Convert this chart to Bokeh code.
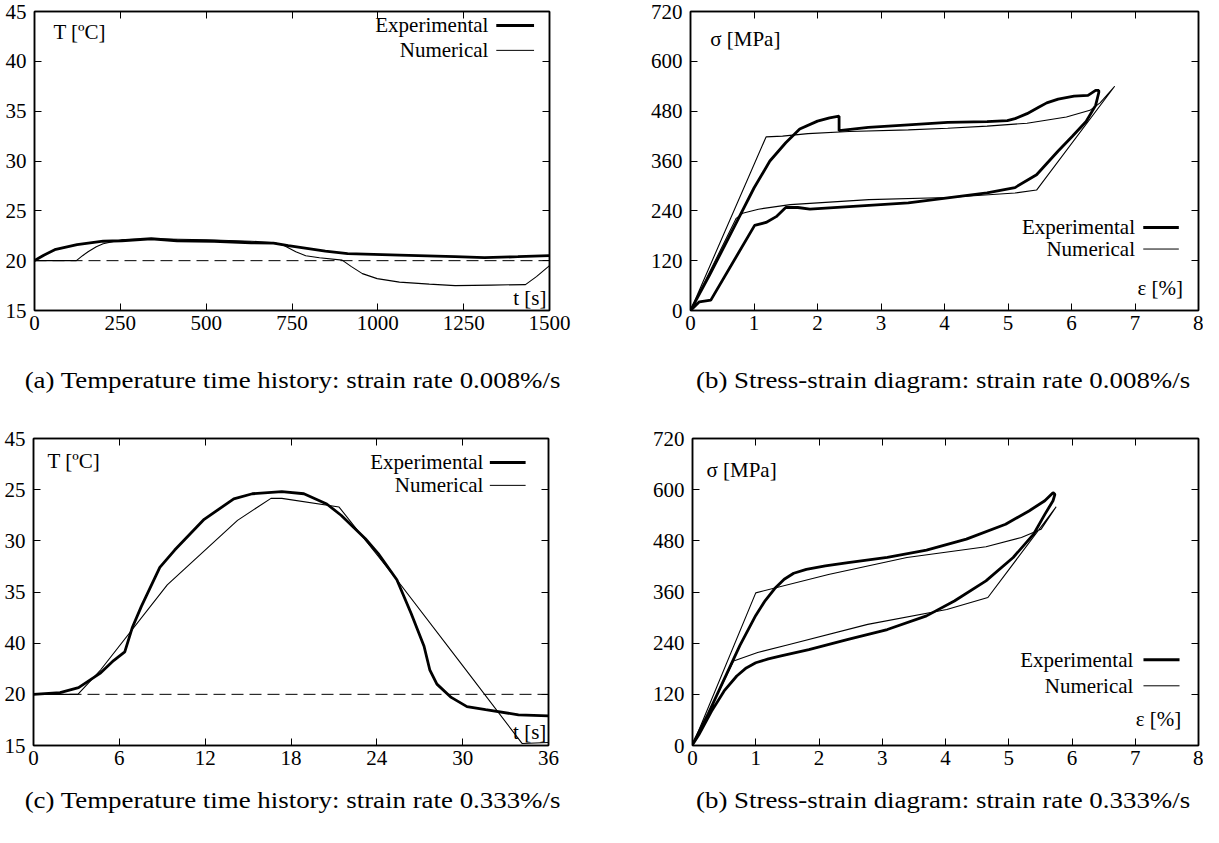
from bokeh.plotting import figure
from bokeh.models import Range1d, LinearAxis, FixedTicker, Span, Label, Arrow, Div
from bokeh.layouts import column, row
from bokeh.embed import file_html
from bokeh.resources import INLINE

FONT = "Liberation Serif"

# ---------------- data ----------------
# (a) temperature, strain rate 0.008%/s
a_t_exp = [0, 27, 59, 124, 200, 254, 340, 415, 523, 631, 696, 739, 847, 912, 1063, 1225, 1311, 1408, 1500]
a_T_exp = [20.0, 20.55, 21.1, 21.6, 21.95, 22.0, 22.2, 22.0, 21.95, 21.8, 21.75, 21.5, 20.95, 20.7, 20.55, 20.4, 20.3, 20.4, 20.5]
a_t_num = [0, 122, 140, 156, 180, 200, 254, 340, 500, 631, 700, 728, 761, 790, 830, 896, 923, 955, 998, 1063, 1150, 1225, 1330, 1430, 1462, 1500]
a_T_num = [20.0, 20.0, 20.5, 20.9, 21.4, 21.7, 22.1, 22.2, 22.1, 21.95, 21.8, 21.5, 20.9, 20.5, 20.3, 20.05, 19.4, 18.7, 18.2, 17.85, 17.65, 17.5, 17.55, 17.6, 18.4, 19.5]

# (b) stress-strain, strain rate 0.008%/s
b_e_exp = [0, 0.3, 0.6, 1.0, 1.25, 1.5, 1.72, 2.0, 2.19, 2.34, 2.34, 2.8, 3.43, 4.05, 4.67, 4.99, 5.11, 5.30, 5.49, 5.61, 5.79, 6.04, 6.26, 6.38, 6.43,
           6.43, 6.38, 6.23, 6.01, 5.79, 5.45, 5.11, 4.67, 4.05, 3.43, 2.5, 1.88, 1.69, 1.50, 1.35, 1.19, 1.01, 0.32, 0.14, 0]
b_s_exp = [0, 85, 175, 295, 360, 404, 437, 456, 464, 468, 433, 441, 447, 453, 455, 457, 462, 474, 490, 500, 509, 516, 518, 530, 530,
           525, 494, 455, 419, 384, 327, 296, 283, 271, 259, 250, 244, 248, 248, 226, 212, 205, 25, 21, 0]
b_e_num = [0, 1.19, 1.45, 1.85, 2.5, 3.43, 4.05, 4.67, 5.30, 5.92, 6.29, 6.45, 6.68, 5.45, 5.11, 4.05, 2.81, 1.57, 1.07, 0.82, 0.72, 0]
b_s_num = [0, 418, 420, 426, 431, 435, 439, 444, 451, 466, 482, 500, 540, 290, 283, 272, 267, 255, 244, 234, 222, 0]

# (c) temperature, strain rate 0.333%/s
c_t_exp = [0, 1.86, 3.15, 4.70, 5.6, 6.38, 6.9, 7.54, 8.83, 9.87, 11.93, 14.0, 15.3, 17.36, 18.9, 20.5, 21.5, 23.2, 24.1, 25.4, 26.4, 27.3, 27.7, 28.2, 29.2, 30.3, 31.6, 33.9, 36]
c_T_exp = [20.0, 20.17, 20.66, 22.1, 23.3, 24.15, 26.5, 28.6, 32.4, 34.1, 37.1, 39.1, 39.6, 39.8, 39.6, 38.6, 37.5, 35.2, 33.75, 31.2, 27.9, 24.7, 22.4, 21.0, 19.7, 18.8, 18.5, 18.0, 17.9]
c_t_num = [0, 3.1, 4.7, 9.35, 14.26, 16.6, 17.36, 21.36, 25.4, 30.0, 34.15, 36]
c_T_num = [20.0, 20.0, 22.4, 30.7, 37.0, 39.15, 39.15, 38.3, 31.2, 22.8, 15.2, 15.3]

# (d) stress-strain, strain rate 0.333%/s
d_e_exp = [0, 0.25, 0.5, 0.75, 1.0, 1.15, 1.3, 1.45, 1.6, 1.8, 2.1, 2.46, 3.08, 3.70, 4.33, 4.95, 5.32, 5.57, 5.70, 5.73,
           5.70, 5.57, 5.39, 5.07, 4.64, 4.14, 3.70, 3.08, 2.46, 1.84, 1.40, 1.2, 1.0, 0.85, 0.7, 0.5, 0.3, 0.1, 0]
d_s_exp = [2, 75, 155, 235, 305, 340, 368, 390, 404, 413, 421, 429, 441, 458, 484, 519, 550, 574, 593, 589,
           574, 542, 495, 441, 386, 339, 304, 272, 249, 225, 210, 203, 194, 182, 163, 128, 80, 25, 2]
d_e_num = [0, 1.0, 2.15, 3.39, 4.64, 5.2, 5.51, 5.75, 4.67, 4.02, 2.77, 1.53, 1.03, 0.65, 0]
d_s_num = [0, 358, 401, 441, 466, 488, 507, 560, 347, 319, 284, 237, 218, 198, 0]

# axes ticks and labels
temp_x_ticks_a = [0, 250, 500, 750, 1000, 1250, 1500]
temp_x_ticks_c = [0, 6, 12, 18, 24, 30, 36]
temp_y_ticks = [15, 20, 25, 30, 35, 40, 45]
temp_y_labels_c = ["15", "20", "40", "35", "30", "25", "45"]
ss_x_ticks = [0, 1, 2, 3, 4, 5, 6, 7, 8]
ss_y_ticks = [0, 120, 240, 360, 480, 600, 720]

captions = [
    "(a) Temperature time history: strain rate 0.008%/s",
    "(b) Stress-strain diagram: strain rate 0.008%/s",
    "(c) Temperature time history: strain rate 0.333%/s",
    "(b) Stress-strain diagram: strain rate 0.333%/s",
]


def style_axis(ax, ticks, hidden=False):
    ax.major_tick_in = 7
    ax.major_tick_out = 0
    ax.minor_tick_in = 0
    ax.minor_tick_out = 0
    ax.axis_line_color = "black"
    ax.axis_line_width = 1.5
    ax.major_tick_line_color = "black"
    ax.major_tick_line_width = 1
    ax.major_label_text_font = FONT
    ax.major_label_text_color = "black"
    if hidden:
        ax.major_label_overrides = {t: "" for t in ticks}
        ax.major_label_text_font_size = "1px"
        ax.major_label_standoff = 0
    else:
        ax.major_label_text_font_size = "21px"


def make_fig(w, h, lb, rb, tb, bb, xr, yr, xticks, yticks, ylabels=None):
    p = figure(width=w, height=h, x_range=Range1d(*xr), y_range=Range1d(*yr),
               output_backend="svg", toolbar_location=None,
               min_border_left=lb, min_border_right=rb, min_border_top=tb, min_border_bottom=bb)
    p.grid.visible = False
    p.outline_line_color = "black"
    p.outline_line_width = 1.5
    p.xaxis.ticker = FixedTicker(ticks=xticks)
    p.yaxis.ticker = FixedTicker(ticks=yticks)
    for ax in p.xaxis:
        style_axis(ax, xticks)
        ax.major_label_standoff = 5
    for ax in p.yaxis:
        style_axis(ax, yticks)
        ax.major_label_standoff = 8
    if ylabels is not None:
        p.yaxis.major_label_overrides = {t: l for t, l in zip(yticks, ylabels)}
    top = LinearAxis(ticker=FixedTicker(ticks=xticks))
    style_axis(top, xticks, hidden=True)
    p.add_layout(top, "above")
    right = LinearAxis(ticker=FixedTicker(ticks=yticks))
    style_axis(right, yticks, hidden=True)
    p.add_layout(right, "right")
    return p


def add_label(p, x, y, text, align="left"):
    p.add_layout(Label(x=x, y=y, text=text, text_font=FONT, text_font_size="21px",
                       text_align=align, text_baseline="middle", text_color="black"))


def add_legend(p, x_text, y_exp, y_num, x0, x1):
    add_label(p, x_text, y_exp, "Experimental", "right")
    add_label(p, x_text, y_num, "Numerical", "right")
    p.add_layout(Arrow(end=None, x_start=x0, y_start=y_exp, x_end=x1, y_end=y_exp,
                       line_color="black", line_width=3))
    p.add_layout(Arrow(end=None, x_start=x0, y_start=y_num, x_end=x1, y_end=y_num,
                       line_color="black", line_width=1))


# ---- (a) ----
pa = make_fig(640, 342, 34, 91, 11, 32, (0, 1500), (15, 45), temp_x_ticks_a, temp_y_ticks)
pa.add_layout(Span(location=20, dimension="width", line_color="black", line_width=1, line_dash="12 6"))
pa.line(a_t_num, a_T_num, line_color="black", line_width=1.1)
pa.line(a_t_exp, a_T_exp, line_color="black", line_width=2.8)
add_label(pa, 55, 42.9, "T [ºC]")
add_label(pa, 1491, 16.3, "t [s]", "right")
add_legend(pa, 1322, 43.6, 41.1, 1345, 1455)

# ---- (b) ----
pb = make_fig(563, 342, 50, 5, 11, 29, (0, 8), (0, 720), ss_x_ticks, ss_y_ticks)
pb.line(b_e_num, b_s_num, line_color="black", line_width=1.1)
pb.line(b_e_exp, b_s_exp, line_color="black", line_width=2.8)
add_label(pb, 0.31, 653, "σ  [MPa]")
add_label(pb, 7.84, 55, "ε  [%]", "right")
add_legend(pb, 7.0, 200, 148, 7.13, 7.69)

# ---- (c) ----
pc = make_fig(640, 356, 33, 92, 17, 31, (0, 36), (15, 45), temp_x_ticks_c, temp_y_ticks, temp_y_labels_c)
pc.add_layout(Span(location=20, dimension="width", line_color="black", line_width=1, line_dash="12 6"))
pc.line(c_t_num, c_T_num, line_color="black", line_width=1.1)
pc.line(c_t_exp, c_T_exp, line_color="black", line_width=2.8)
add_label(pc, 0.98, 42.76, "T [ºC]")
add_label(pc, 35.85, 16.3, "t [s]", "right")
add_legend(pc, 31.45, 42.66, 40.42, 31.9, 34.4)

# ---- (d) ----
pd_ = make_fig(563, 356, 52, 5, 18, 30, (0, 8), (0, 720), ss_x_ticks, ss_y_ticks)
pd_.line(d_e_num, d_s_num, line_color="black", line_width=1.1)
pd_.line(d_e_exp, d_s_exp, line_color="black", line_width=2.8)
add_label(pd_, 0.22, 647, "σ  [MPa]")
add_label(pd_, 7.81, 61, "ε  [%]", "right")
add_legend(pd_, 6.97, 201, 140, 7.13, 7.7)


def caption(text, w, h, pad_left, pad_top):
    return Div(text=text, width=w, height=h, margin=0,
               styles={"font-family": FONT, "font-size": "24px", "line-height": "28px",
                       "white-space": "nowrap", "padding-left": f"{pad_left}px",
                       "padding-top": f"{pad_top}px", "color": "black",
                       "box-sizing": "border-box",
                       "transform": "scaleX(1.12)", "transform-origin": "0 0"})


cap_row1 = row(caption(captions[0], 640, 78, 22, 24), caption(captions[1], 563, 78, 50, 24))
cap_row2 = row(caption(captions[2], 640, 35, 22, 10), caption(captions[3], 563, 35, 50, 10))

layout = column(row(pa, pb), cap_row1, row(pc, pd_), cap_row2)

open("out.html", "w").write(file_html(layout, INLINE))
